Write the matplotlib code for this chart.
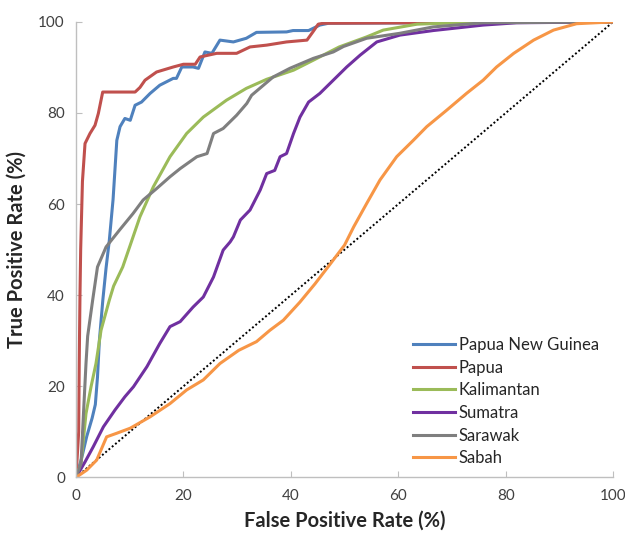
import matplotlib
matplotlib.use("Agg")
import matplotlib.pyplot as plt

plt.rcParams['font.family'] = ['Lato', 'DejaVu Sans']

# ROC curves (FPR %, TPR %)
png_x = [0, 1.0, 2.0, 3.0, 3.6, 4.0, 4.35, 5.0, 5.6, 6.2, 6.9, 7.6, 8.2, 9.1, 10.1, 11.0, 12.2, 13.8, 15.6, 18.1, 18.7, 19.7,
         21.8, 22.8, 24.0, 25.3, 26.8, 29.3, 31.7, 33.6, 39.2, 40.4, 43.3, 45.4, 47, 100]
png_y = [0, 4, 9, 13, 16, 22, 30, 39, 46, 52, 61, 74, 77, 78.8, 78.4, 81.7, 82.4, 84.3, 86.1, 87.6, 87.6, 90.1,
         90.1, 89.8, 93.4, 93.1, 96.0, 95.6, 96.4, 97.7, 97.8, 98.1, 98.1, 99.3, 99.7, 100]

papua_x = [0, 0.5, 0.6, 0.74, 0.87, 1.2, 1.68, 2.6, 3.54, 4.16, 4.97, 11.0, 11.9, 12.85, 15.0, 18.1, 20.0, 22.2, 23.1,
           26.2, 29.9, 32.4, 35.5, 39.2, 43.0, 44.1, 45.1, 46.0, 100]
papua_y = [0, 10, 25, 40, 50, 65, 73.3, 75.5, 77.3, 79.9, 84.6, 84.6, 85.6, 87.2, 89.0, 90.1, 90.7, 90.7, 92.3,
           93.1, 93.1, 94.5, 94.9, 95.6, 96.0, 97.8, 99.5, 99.7, 100]

kal_x = [0, 0.93, 1.86, 2.8, 3.72, 4.66, 6.2, 7.0, 8.7, 10.1, 11.9, 14.4, 17.5, 20.6, 23.7, 28.0, 31.7, 35.5, 40.5,
         44.2, 49, 54.1, 57.2, 63.5, 73, 100]
kal_y = [0, 3, 14, 19.9, 25, 32.3, 38.9, 42, 46.2, 51, 57.2, 63.8, 70.4, 75.5, 79.1, 82.8, 85.4, 87.4, 89.4,
         91.6, 94.5, 96.7, 98.2, 99.5, 99.9, 100]

sum_x = [0, 1.68, 3.2, 5.1, 7.26, 9.1, 10.7, 13.2, 15.6, 17.5, 19.4, 21.8, 23.7, 25.6, 27.4, 28.7, 29.3, 30.6, 32.4,
         34.3, 35.5, 37.0, 38.0, 39.2, 40.5, 41.7, 43.3, 45.4, 47.9, 50.4, 52.9, 56.0, 60.3, 66.5, 75.8, 82, 100]
sum_y = [0, 3.4, 6.7, 11.1, 14.8, 17.7, 19.9, 24.3, 29.4, 33.1, 34.2, 37.4, 39.6, 44, 49.9, 51.7, 52.8, 56.5, 58.7,
         63.1, 66.7, 67.4, 70.4, 71.1, 75.5, 79.1, 82.4, 84.3, 87.2, 90.1, 92.7, 95.6, 97.1, 98.1, 99.3, 99.8, 100]

sar_x = [0, 0.93, 1.24, 1.55, 1.86, 2.17, 3.1, 4.0, 5.6, 8.1, 10.6, 12.5, 15.0, 17.5, 19.4, 22.5, 24.4, 25.6, 27.4,
         29.9, 31.8, 32.7, 34.9, 36.7, 39.8, 44.2, 47.9, 49.8, 54.1, 60.3, 66.5, 75.8, 100]
sar_y = [0, 3, 10.4, 17.7, 25, 31, 38.9, 46.2, 50.6, 54.3, 57.9, 60.9, 63.4, 66, 67.8, 70.4, 71.1, 75.5, 76.6,
         79.5, 82.1, 83.9, 86.1, 87.9, 89.8, 92, 93.4, 94.6, 96.4, 97.5, 98.9, 99.8, 100]

sab_x = [0, 2.0, 3.85, 5.7, 7.6, 10.1, 13.8, 17.5, 20.6, 23.7, 26.8, 30.3, 33.6, 36.1, 38.6, 41.7, 44.5, 47.3, 50.0,
         51.7, 54.1, 56.6, 59.7, 62.8, 65.3, 69.0, 72.7, 75.8, 78.3, 81.5, 85.2, 88.9, 93.2, 100]
sab_y = [0, 1.6, 3.8, 8.9, 9.7, 10.8, 13.3, 16.2, 19.2, 21.4, 25.0, 27.9, 29.8, 32.3, 34.5, 38.5, 42.5, 46.8, 51.0,
         55.0, 60.1, 65.3, 70.4, 74.0, 77.0, 80.6, 84.3, 87.2, 90.1, 93.1, 96.0, 98.2, 99.6, 100]

ref_x = [0, 100]
ref_y = [0, 100]

series = [
    ("Papua New Guinea", png_x, png_y, '#4F81BD'),
    ("Papua", papua_x, papua_y, '#C0504D'),
    ("Kalimantan", kal_x, kal_y, '#9BBB59'),
    ("Sumatra", sum_x, sum_y, '#7030A0'),
    ("Sarawak", sar_x, sar_y, '#7F7F7F'),
    ("Sabah", sab_x, sab_y, '#F79646'),
]
ticks = [0, 20, 40, 60, 80, 100]

fig = plt.figure(figsize=(6.25, 5.34), dpi=100)
ax = fig.add_axes([0.1216, 0.106, 0.8594, 0.853])

ax.plot(ref_x, ref_y, color='black', linestyle=(0, (1, 1.2)), linewidth=1.4)
for name, xs, ys, c in series:
    ax.plot(xs, ys, color=c, linewidth=2.2, label=name, solid_joinstyle='round')

ax.set_xlim(0, 100)
ax.set_ylim(0, 100)
ax.set_xticks(ticks)
ax.set_yticks(ticks)
for s in ['top', 'right']:
    ax.spines[s].set_visible(False)
for s in ['left', 'bottom']:
    ax.spines[s].set_color('#BFBFBF')
    ax.spines[s].set_linewidth(1.0)
ax.tick_params(direction='in', length=4, color='#BFBFBF', labelsize=11, labelcolor='#404040', pad=8)

ax.set_xlabel('False Positive Rate (%)', fontsize=14.5, fontweight='bold', color='#262626', labelpad=6)
ax.set_ylabel('True Positive Rate (%)', fontsize=14.5, fontweight='bold', color='#262626', labelpad=8)

leg = ax.legend(loc='upper left', bbox_to_anchor=(0.615, 0.323), frameon=False, fontsize=12,
                handlelength=2.5, handletextpad=0.25, labelspacing=0.4, borderaxespad=0)
for t in leg.get_texts():
    t.set_color('#262626')

fig.savefig('out.png', dpi=100)
